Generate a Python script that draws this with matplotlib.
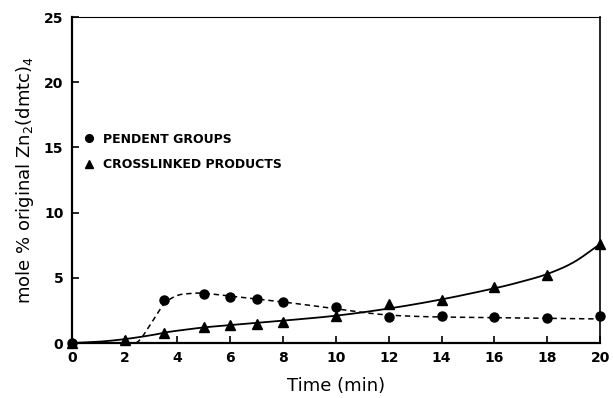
import numpy as np
import matplotlib.pyplot as plt

# measured points
time_pendent = [0, 3.5, 5, 6, 7, 8, 10, 12, 14, 16, 18, 20]
pendent = [0, 3.3, 3.8, 3.55, 3.35, 3.15, 2.8, 2.0, 2.1, 2.0, 1.95, 2.05]
time_cross = [0, 2, 3.5, 5, 6, 7, 8, 10, 12, 14, 16, 18, 20]
cross = [0, 0.2, 0.75, 1.2, 1.35, 1.5, 1.6, 2.1, 3.0, 3.3, 4.3, 5.2, 7.6]

# fitted curves
fit_pend_x = [0, 1, 2, 2.5, 3, 3.5, 4, 4.5, 5, 6, 7, 8, 9, 10, 11, 12, 13, 14, 16, 18, 20]
fit_pend_y = [0, 0, 0, 0.1, 1.5, 3.0, 3.65, 3.8, 3.82, 3.6, 3.38, 3.15, 2.9, 2.62, 2.35, 2.15, 2.05, 2.0, 1.95, 1.9, 1.85]
fit_cross_x = [0, 1, 2, 3, 3.5, 4, 5, 6, 7, 8, 10, 12, 14, 16, 17, 18, 19, 20]
fit_cross_y = [0, 0.1, 0.3, 0.6, 0.8, 0.95, 1.2, 1.38, 1.55, 1.72, 2.1, 2.65, 3.35, 4.2, 4.7, 5.3, 6.2, 7.6]


def smooth(xs, ys, n=20):
    # catmull-rom through the read-off points
    x = np.array(xs, float)
    y = np.array(ys, float)
    px = np.concatenate([[2 * x[0] - x[1]], x, [2 * x[-1] - x[-2]]])
    py = np.concatenate([[2 * y[0] - y[1]], y, [2 * y[-1] - y[-2]]])
    outx, outy = [], []
    t = np.linspace(0, 1, n, endpoint=False)
    for i in range(1, len(px) - 2):
        for arr, out in ((px, outx), (py, outy)):
            p0, p1, p2, p3 = arr[i - 1], arr[i], arr[i + 1], arr[i + 2]
            out.extend(0.5 * (2 * p1 + (-p0 + p2) * t + (2 * p0 - 5 * p1 + 4 * p2 - p3) * t ** 2
                              + (-p0 + 3 * p1 - 3 * p2 + p3) * t ** 3))
    outx.append(x[-1])
    outy.append(y[-1])
    return outx, outy


fig = plt.figure(figsize=(6.13, 3.98), dpi=100)
ax = fig.add_axes([0.117, 0.138, 0.862, 0.819])

sx, sy = smooth(fit_pend_x, fit_pend_y)
ax.plot(sx, np.maximum(sy, 0), 'k--', lw=1.1, dashes=(3.5, 2.5))
sx, sy = smooth(fit_cross_x, fit_cross_y)
ax.plot(sx, sy, 'k-', lw=1.3)
ax.plot(time_pendent, pendent, 'ko', ms=6.5, clip_on=False, label='PENDENT GROUPS')
ax.plot(time_cross, cross, 'k^', ms=6.5, clip_on=False, label='CROSSLINKED PRODUCTS')

ax.set_xlim(0, 20)
ax.set_ylim(0, 25)
ax.set_xticks(range(0, 21, 2))
ax.set_yticks(range(0, 26, 5))
ax.tick_params(direction='in', length=5, width=1.2, labelsize=10, pad=6)
for lab in ax.get_xticklabels() + ax.get_yticklabels():
    lab.set_fontweight('bold')
ax.spines['left'].set_linewidth(1.6)
ax.spines['bottom'].set_linewidth(1.6)
ax.spines['right'].set_linewidth(1.2)
ax.spines['top'].set_linewidth(0.8)

ax.set_xlabel('Time (min)', fontsize=13, labelpad=8)
ax.set_ylabel('mole % original Zn$_2$(dmtc)$_4$', fontsize=13, labelpad=6)

leg = ax.legend(loc='upper left', bbox_to_anchor=(0.0, 0.68), frameon=False,
                handlelength=1, handletextpad=0.6, labelspacing=1.0, markerscale=0.85,
                prop={'weight': 'bold', 'size': 9})

fig.savefig('out.png', dpi=100)
